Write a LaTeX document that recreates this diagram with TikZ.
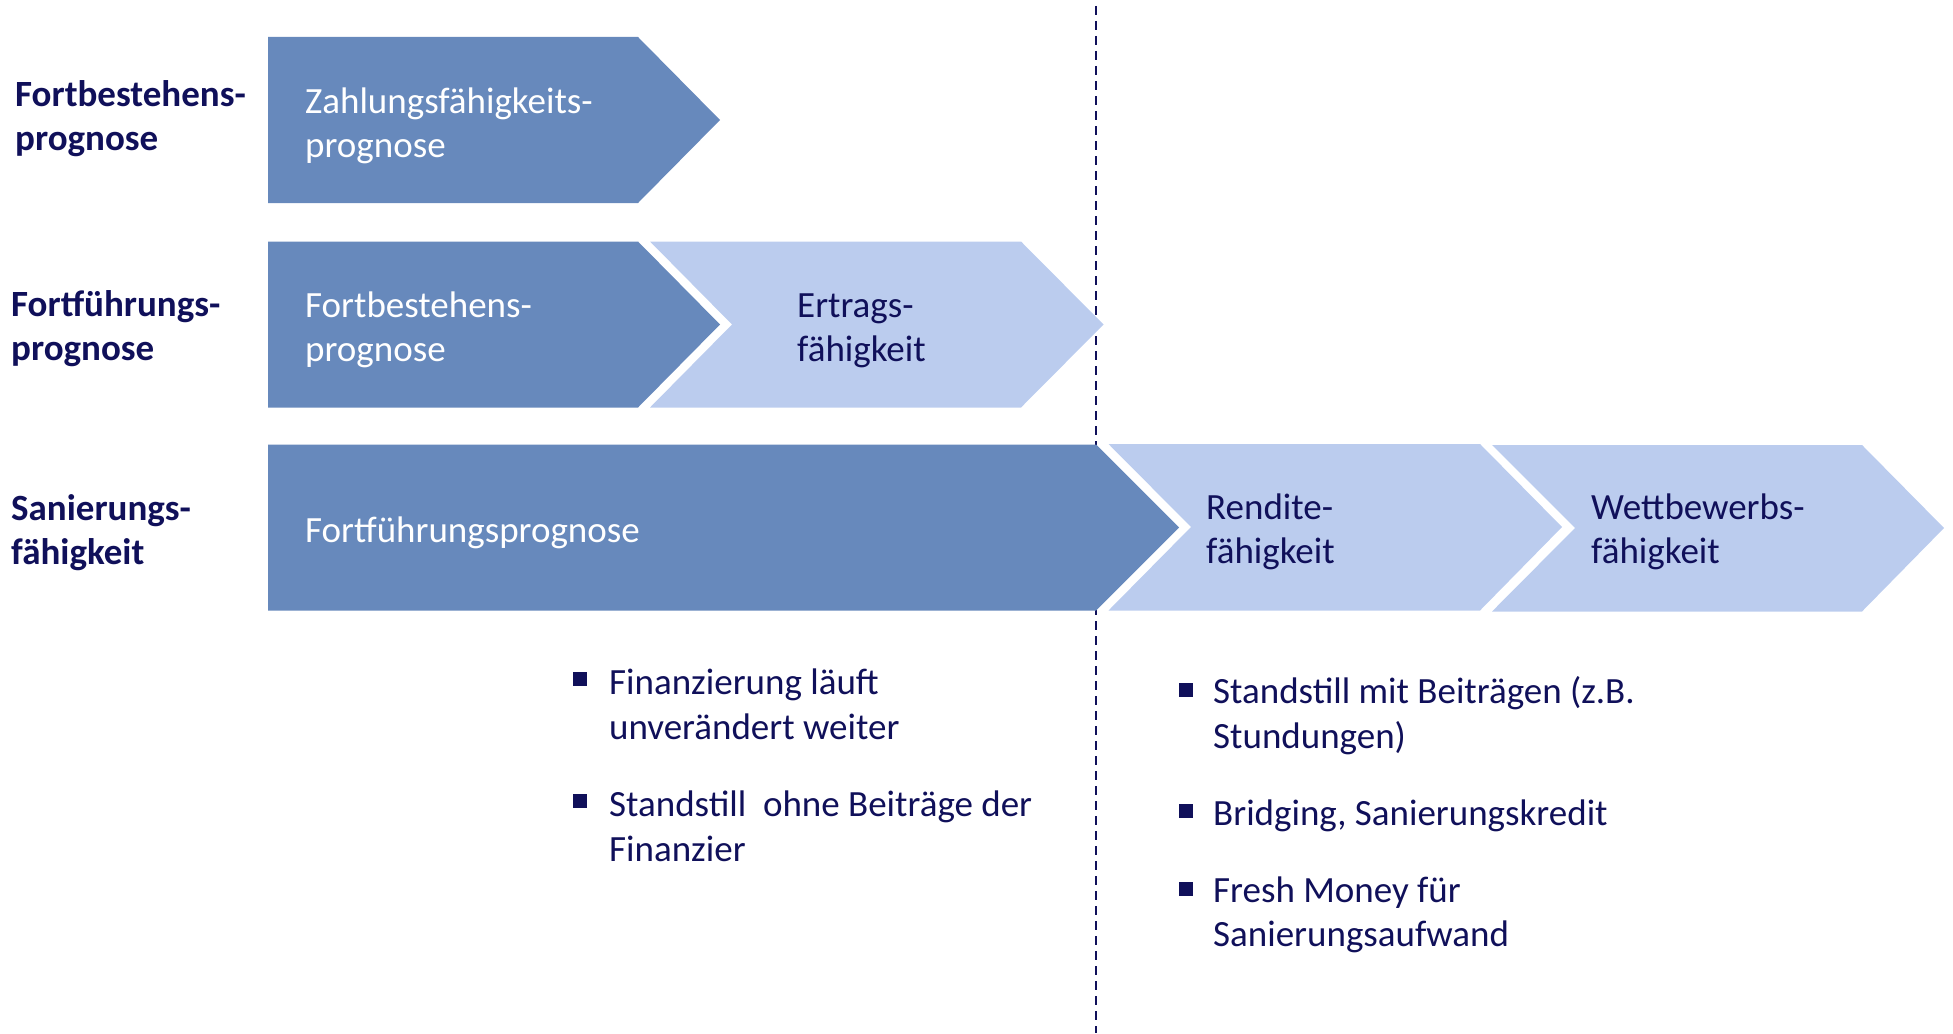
\documentclass[tikz,border=0pt]{standalone}
\usepackage{fontspec}
\setmainfont{Carlito}
\definecolor{darkblue}{HTML}{6789BC}
\definecolor{lightblue}{HTML}{BBCCEE}
\definecolor{navy}{HTML}{10105A}
\tikzset{
  dark/.style={fill=darkblue},
  light/.style={fill=lightblue},
  intxt/.style={anchor=west, inner sep=0pt, align=left, text=white, font=\fontsize{37}{44.5}\selectfont},
  intxtd/.style={intxt, text=navy},
  lbl/.style={anchor=west, inner sep=0pt, align=left, text=navy, font=\fontsize{37}{44.5}\selectfont\bfseries},
  btxt/.style={anchor=north west, inner sep=0pt, align=left, text=navy, font=\fontsize{37}{44.5}\selectfont},
  bsq/.style={fill=navy, draw=none, minimum size=14pt, inner sep=0pt},
  sep/.style={draw=navy, line width=2pt, dash pattern=on 9pt off 6pt}
}
\begin{document}
\begin{tikzpicture}[x=1pt,y=-1pt]
\useasboundingbox (0,0) rectangle (1953,1033);
% separator (behind the shapes)
\coordinate (st) at (1096,6);
\coordinate (en) at (1096,1033);
\draw[sep] (st) -- (en);
% row 1
\fill[dark] (268,37) -- (638,37) -- (720,120) -- (638,203) -- (268,203) -- cycle;
% row 2
\fill[dark] (268,241.5) -- (638,241.5) -- (720,324.5) -- (638,407.5) -- (268,407.5) -- cycle;
\fill[light] (650,241.5) -- (1021,241.5) -- (1103.5,324.5) -- (1021,407.5) -- (650,407.5) -- (732,324.5) -- cycle;
% row 3
\fill[dark] (268,444.5) -- (1096,444.5) -- (1179,527.5) -- (1096,610.5) -- (268,610.5) -- cycle;
\fill[light] (1108.5,444) -- (1480,444) -- (1562,527) -- (1480,610.5) -- (1108.5,610.5) -- (1191,527) -- cycle;
\fill[light] (1492,445) -- (1862,445) -- (1944,528) -- (1862,611.5) -- (1492,611.5) -- (1575,528) -- cycle;
% left labels
\node[lbl] (l1) at (15,118.5) {Fortbestehens-\\prognose};
\node[lbl] (l2) at (11,328.5) {Fortführungs-\\prognose};
\node[lbl] (l3) at (11,532.5) {Sanierungs-\\fähigkeit};
% arrow texts
\node[intxt] (a1) at (305,126) {Zahlungsfähigkeits-\\prognose};
\node[intxt] (a2) at (305,330) {Fortbestehens-\\prognose};
\node[intxtd] (a3) at (797,331) {Ertrags-\\fähigkeit};
\node[intxt] (a4) at (305,533) {Fortführungsprognose};
\node[intxtd] (a5) at (1206,532) {Rendite-\\fähigkeit};
\node[intxtd] (a6) at (1591,532) {Wettbewerbs-\\fähigkeit};
% bullets left
\node[bsq] (s1) at (580,679) {};
\node[btxt] (b1) at (609,669) {Finanzierung läuft\\unverändert weiter};
\node[bsq] (s2) at (580,801) {};
\node[btxt] (b2) at (609,791) {Standstill\ \ ohne Beiträge der\\Finanzier};
% bullets right
\node[bsq] (s3) at (1186,690) {};
\node[btxt] (b3) at (1213,676.5) {Standstill mit Beiträgen (z.B.\\Stundungen)};
\node[bsq] (s4) at (1186,811) {};
\node[btxt] (b4) at (1213,800) {Bridging, Sanierungskredit};
\node[bsq] (s5) at (1186,889) {};
\node[btxt] (b5) at (1213,876.5) {Fresh Money für\\Sanierungsaufwand};
\end{tikzpicture}
\end{document}
